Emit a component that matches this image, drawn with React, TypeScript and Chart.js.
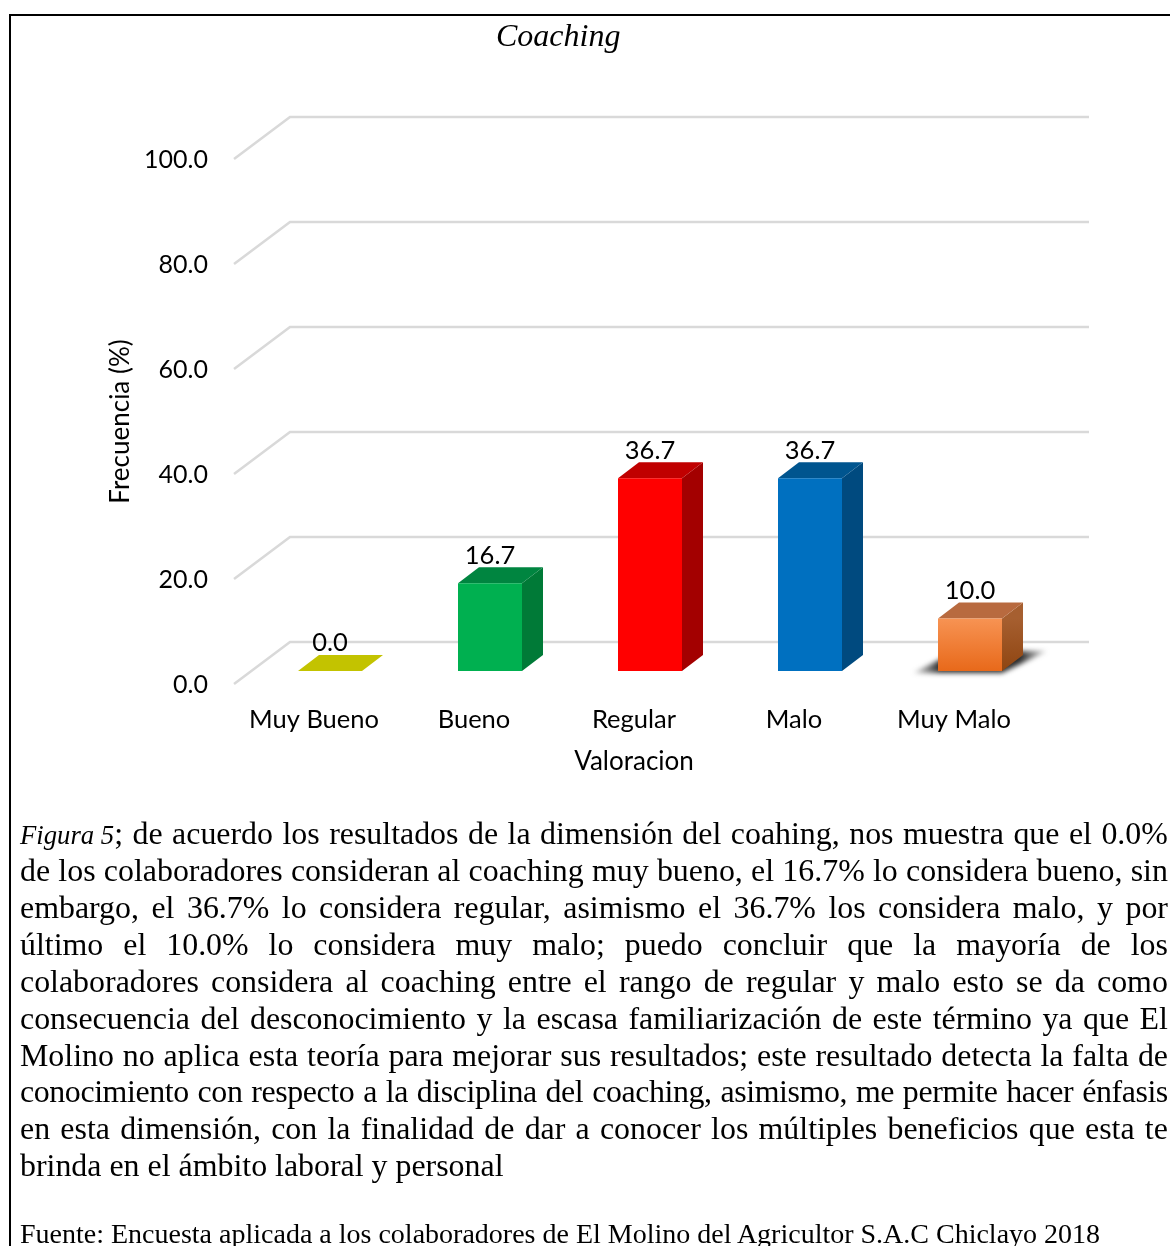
import React, { useEffect, useRef } from "react";
import { Chart, registerables } from "chart.js";

Chart.register(...registerables);

// Survey results
const categories = ["Muy Bueno", "Bueno", "Regular", "Malo", "Muy Malo"];
const frequencies = [0.0, 16.7, 36.7, 36.7, 10.0];
const yTickValues = [0, 20, 40, 60, 80, 100];

// Face colours for each box
const frontColors = ["#C3C300", "#00B050", "#FF0000", "#0070C0", "#F47B30"];
const sideColors = ["#C3C300", "#007A37", "#A30000", "#004A7F", "#994D18"];
const topColors = ["#C3C300", "#008540", "#C00000", "#00558F", "#B86A3F"];

// Caption, one entry per printed line
const captionLines = [
  "de los colaboradores consideran al coaching muy bueno, el 16.7% lo considera bueno, sin",
  "embargo, el 36.7% lo considera regular, asimismo el 36.7% los considera malo, y por",
  "último el 10.0% lo considera muy malo; puedo concluir que la mayoría de los",
  "colaboradores considera al coaching entre el rango de regular y malo esto se da como",
  "consecuencia del desconocimiento y la escasa familiarización de este término ya que El",
  "Molino no aplica esta teoría para mejorar sus resultados; este resultado detecta la falta de",
  "conocimiento con respecto a la disciplina del coaching, asimismo, me permite hacer énfasis",
  "en esta dimensión, con la finalidad de dar a conocer los múltiples beneficios que esta te",
];
const captionFirst = "; de acuerdo los resultados de la dimensión del coahing, nos muestra que el 0.0%";
const captionLast = "brinda en el ámbito laboral y personal";
const sourceLine = "Fuente: Encuesta aplicada a los colaboradores de El Molino del Agricultor S.A.C Chiclayo 2018";

const SERIF = '"Liberation Serif", serif';
const SANS = "Lato, sans-serif";

// Projection of the chart box
const WALL_DX = 56;
const WALL_DY = -42;
const BAR_DX = 16;
const BAR_DY = -13;
const BOX_DX = 21;
const BOX_DY = -16;

function poly(ctx: CanvasRenderingContext2D, pts: number[][], fill: string | CanvasGradient) {
  ctx.beginPath();
  pts.forEach(([x, y], i) => (i ? ctx.lineTo(x, y) : ctx.moveTo(x, y)));
  ctx.closePath();
  ctx.fillStyle = fill;
  ctx.fill();
}

const boxPlugin = {
  id: "box3d",
  beforeDatasetsDraw(chart: any) {
    const { ctx, chartArea, scales } = chart;
    ctx.save();
    ctx.strokeStyle = "#D9D9D9";
    ctx.lineWidth = 2.5;
    scales.y.ticks.forEach((t: any) => {
      const y = scales.y.getPixelForValue(t.value);
      ctx.beginPath();
      ctx.moveTo(chartArea.left, y);
      ctx.lineTo(chartArea.left + WALL_DX, y + WALL_DY);
      ctx.lineTo(chartArea.right + WALL_DX - 1, y + WALL_DY);
      ctx.stroke();
    });
    ctx.restore();

    // Stays translated while the library paints the front faces
    ctx.save();
    ctx.translate(BAR_DX, BAR_DY);
    chart.getDatasetMeta(0).data.forEach((el: any, i: number) => {
      const l = el.x - el.width / 2;
      const r = el.x + el.width / 2;
      if (i === frequencies.length - 1) {
        ctx.save();
        ctx.filter = "blur(2.5px)";
        const g = ctx.createLinearGradient(l - 25, 0, r + 45, 0);
        g.addColorStop(0, "rgba(70,70,70,0.2)");
        g.addColorStop(0.2, "rgba(45,45,45,1)");
        g.addColorStop(0.8, "rgba(45,45,45,1)");
        g.addColorStop(1, "rgba(70,70,70,0.2)");
        poly(ctx, [[l - 25, el.base + 2], [r, el.base + 2], [r + 45, el.base - 20], [l + 19, el.base - 20]], g);
        ctx.restore();
      }
      if (el.base - el.y > 0) {
        let side: string | CanvasGradient = sideColors[i];
        if (i === frequencies.length - 1) {
          side = ctx.createLinearGradient(0, el.y, 0, el.base);
          side.addColorStop(0, "#A65F30");
          side.addColorStop(1, "#8F4511");
        }
        poly(ctx, [[r, el.y], [r + BOX_DX, el.y + BOX_DY], [r + BOX_DX, el.base + BOX_DY], [r, el.base]], side);
      }
      poly(ctx, [[l, el.y], [l + BOX_DX, el.y + BOX_DY], [r + BOX_DX, el.y + BOX_DY], [r, el.y]], topColors[i]);
    });
  },
  afterDatasetsDraw(chart: any) {
    const { ctx } = chart;
    ctx.restore();
    ctx.save();
    ctx.fillStyle = "#000";
    ctx.font = `25.5px ${SANS}`;
    ctx.textAlign = "center";
    ctx.textBaseline = "middle";
    chart.getDatasetMeta(0).data.forEach((el: any, i: number) => {
      ctx.fillText(frequencies[i].toFixed(1), el.x + BAR_DX, el.y + BAR_DY - 28);
    });
    ctx.restore();
  },
};

function Line({ top, children, justify = true, spacing = 0, size }: any) {
  return (
    <div
      style={{
        position: "absolute",
        left: 20,
        top,
        width: 1148,
        lineHeight: "37px",
        whiteSpace: "pre",
        letterSpacing: spacing,
        fontSize: size,
        display: justify ? "flex" : "block",
        justifyContent: "space-between",
      }}
    >
      {children}
    </div>
  );
}

const words = (s: string) => s.split(" ").map((w, i) => <span key={i}>{w}</span>);

export default function App() {
  const canvasRef = useRef<HTMLCanvasElement>(null);

  useEffect(() => {
    const chart = new Chart(canvasRef.current as HTMLCanvasElement, {
      type: "bar",
      data: {
        labels: categories,
        datasets: [
          {
            data: frequencies,
            clip: false,
            barPercentage: 1,
            categoryPercentage: 0.4,
            backgroundColor: (c: any) => {
              if (c.dataIndex !== frequencies.length - 1) return frontColors[c.dataIndex];
              const y = c.chart.scales.y;
              if (!y) return frontColors[c.dataIndex];
              const g = c.chart.ctx.createLinearGradient(0, y.getPixelForValue(frequencies[c.dataIndex]), 0, y.getPixelForValue(0));
              g.addColorStop(0, "#F79353");
              g.addColorStop(1, "#E8691A");
              return g;
            },
          } as any,
        ],
      },
      options: {
        responsive: false,
        animation: false,
        layout: { padding: { top: 159, right: 136, left: 0, bottom: 0 } },
        plugins: { legend: { display: false }, title: { display: false }, tooltip: { enabled: false } },
        scales: {
          x: {
            afterFit: (s: any) => {
              s.height = 117;
            },
            grid: { display: false, drawTicks: false },
            border: { display: false },
            ticks: { padding: 20, color: "#000", maxRotation: 0, autoSkip: false, font: { family: "Lato", size: 25.5 } },
            title: { display: true, text: "Valoracion", color: "#000", font: { family: "Lato", size: 26 }, padding: { top: 0, bottom: 24 } },
          },
          y: {
            min: 0,
            max: 100,
            afterFit: (s: any) => {
              s.width = 234;
            },
            afterBuildTicks: (s: any) => {
              s.ticks = yTickValues.map((value) => ({ value }));
            },
            grid: { display: false, drawTicks: false },
            border: { display: false },
            ticks: { padding: 26, labelOffset: 1, color: "#000", font: { family: "Lato", size: 25 }, callback: (v: any) => Number(v).toFixed(1) },
            title: { display: true, text: "Frecuencia (%)", color: "#000", font: { family: "Lato", size: 26 }, padding: { top: 105, bottom: 0 } },
          },
        },
      } as any,
      plugins: [boxPlugin],
    });
    return () => chart.destroy();
  }, []);

  return (
    <div
      style={{
        position: "absolute",
        left: 0,
        top: 0,
        width: 1170,
        height: 1246,
        overflow: "hidden",
        background: "#fff",
        fontFamily: SERIF,
        fontSize: 31.9,
        color: "#000",
      }}
    >
      <canvas ref={canvasRef} width={1170} height={801} style={{ position: "absolute", left: 0, top: 0 }} />
      <div
        style={{
          position: "absolute",
          left: 9,
          top: 14,
          width: 1300,
          height: 1400,
          borderLeft: "2.5px solid #000",
          borderTop: "2.5px solid #000",
        }}
      />
      <div
        style={{
          position: "absolute",
          left: 496,
          top: 16,
          lineHeight: "38px",
          fontSize: 32,
          fontStyle: "italic",
        }}
      >
        Coaching
      </div>
      <Line top={815}>
        <span>
          <i style={{ fontSize: 26.7 }}>Figura 5</i>;
        </span>
        {words(captionFirst.slice(2))}
      </Line>
      {captionLines.map((text, i) => (
        <Line key={i} top={852 + i * 36.9} spacing={i === 6 ? -0.4 : 0}>
          {words(text)}
        </Line>
      ))}
      <Line top={1147} justify={false}>
        {captionLast}
      </Line>
      <Line top={1215} justify={false} size={28}>
        {sourceLine}
      </Line>
    </div>
  );
}
